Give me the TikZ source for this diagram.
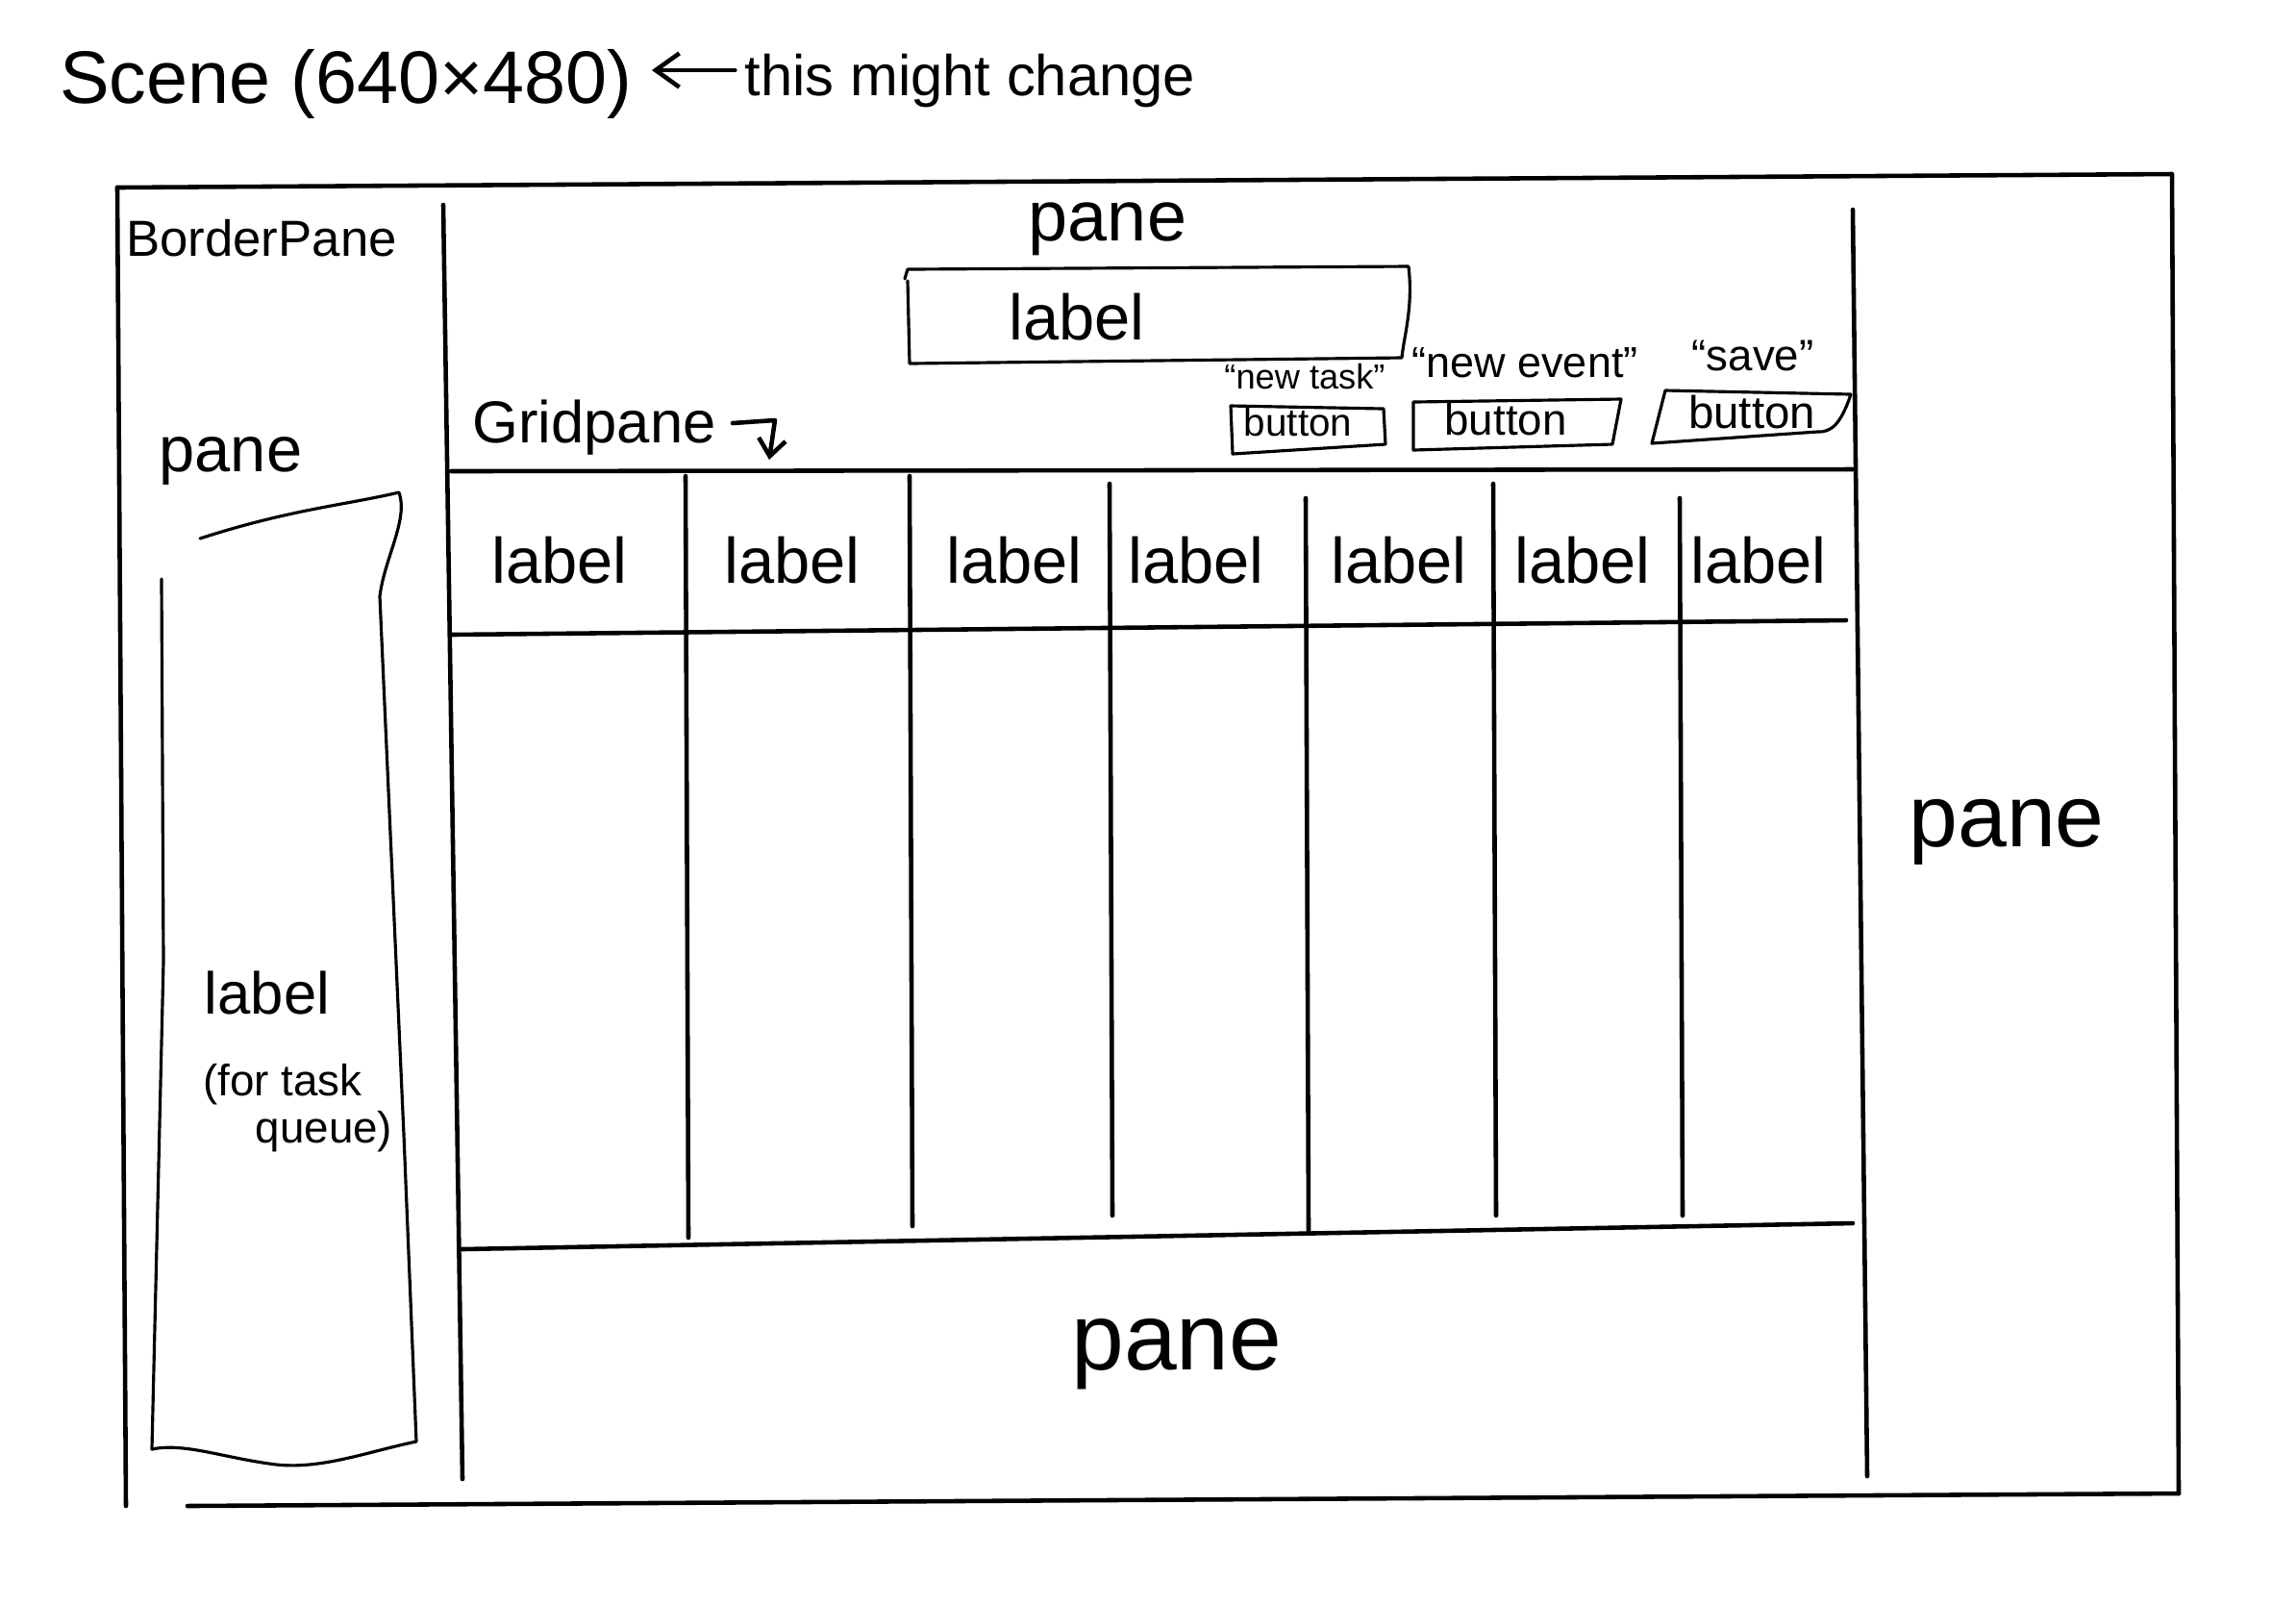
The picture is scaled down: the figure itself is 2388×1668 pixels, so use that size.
\documentclass[tikz,border=0pt]{standalone}
\usepackage{fontspec}
\setmainfont{Liberation Sans}
\usetikzlibrary{arrows.meta}
\newcommand{\fs}[1]{\fontsize{#1}{#1}\selectfont}
\begin{document}
\begin{tikzpicture}[x=0.01cm,y=-0.01cm,
  line width=1.3pt, line cap=round, line join=round,
  pen/.style={draw=black, line width=1.3pt},
  thin pen/.style={draw=black, line width=0.9pt},
  txt/.style={inner sep=0pt, anchor=base, text=black}]
\useasboundingbox[fill=white] (0,0) rectangle (2388,1668);

% title
\node[txt, font=\fs{22}] (title) at (360,107) {Scene (640×480)};
\node[txt, font=\fs{17}] (note) at (1009,99) {this might change};
\draw[pen, -{Straight Barb[length=7pt,width=10pt]}] (note.west |- 0,73) ++(-8,0) coordinate (na) -- (678,73) coordinate (nb);

% outer scene frame (BorderPane)
\draw[pen] (122,195) -- (2259,181) -- (2266,1553);
\draw[pen] (122,195) -- (131,1566);
\draw[pen] (195,1566) -- (2266,1553);
\node[txt, font=\fs{15}] (bp) at (272,266) {BorderPane};

% left / right dividers
\draw[pen] (461,213) -- (481,1538);
\draw[pen] (1927,218) -- (1942,1535);

% left pane
\node[txt, font=\fs{19}] (lpane) at (240,490) {pane};
\draw[thin pen] (208,560) .. controls (300,530) and (360,525) .. (415,512)
  .. controls (425,540) and (400,580) .. (395,620)
  -- (420,1180) -- (433,1499)
  .. controls (380,1510) and (330,1530) .. (280,1522)
  .. controls (230,1515) and (190,1500) .. (158,1507)
  -- (170,1000) -- (168,602);
\node[txt, font=\fs{17.5}] (qlabel) at (278,1054) {label};
\node[txt, font=\fs{13}] (qfor) at (294,1139) {(for task};
\node[txt, font=\fs{13}] (qq) at (337,1188) {queue)};

% top pane
\node[txt, font=\fs{21}] (tpane) at (1152,250) {pane};
\draw[thin pen] (941,290) -- (944,280) -- (1465,277) .. controls (1470,320) and (1460,350) .. (1458,372) -- (946,378) -- (944,292);
\node[txt, font=\fs{19}] (tlabel) at (1120,353) {label};

% buttons
\node[txt, font=\fs{10.3}] (t1) at (1357,404) {``new task''};
\node[txt, font=\fs{12.8}] (t2) at (1586,392) {``new event''};
\node[txt, font=\fs{13}] (t3) at (1823,385) {``save''};
\draw[thin pen] (1280,422) -- (1439,425) -- (1441,462) -- (1282,472) -- cycle;
\draw[thin pen] (1470,418) -- (1686,415) -- (1677,462) -- (1470,468) -- cycle;
\draw[thin pen] (1732,406) -- (1925,410) .. controls (1915,440) and (1905,450) .. (1890,449) -- (1718,461) -- cycle;
\node[txt, font=\fs{11.5}] (b1) at (1350,453) {button};
\node[txt, font=\fs{13}] (b2) at (1566,452) {button};
\node[txt, font=\fs{13.5}] (b3) at (1822,445) {button};

% gridpane
\node[txt, font=\fs{17.5}] (gp) at (618,460) {Gridpane};
\coordinate (ga) at (762,440);
\coordinate (gb) at (800,478);
\draw[pen, -{Straight Barb[length=5pt,width=8pt]}] (ga) -- (806,437) -- (gb);

\draw[pen] (469,490) -- (1927,488);
\draw[pen] (469,660) -- (1920,645);
\draw[pen] (480,1299) -- (1927,1272);
\foreach \x/\a/\b in {713/495/1287, 946/495/1275, 1154/503/1264, 1358/518/1280, 1553/503/1264, 1747/518/1264}
  \draw[pen] (\x,\a) -- (\x+3,\b);

\foreach \x/\n in {582/c1, 824/c2, 1055/c3, 1244/c4, 1455/c5, 1646/c6, 1829/c7}
  \node[txt, font=\fs{19}] (\n) at (\x,606) {label};

% bottom and right panes
\node[txt, font=\fs{28}] (bpane) at (1224,1424) {pane};
\node[txt, font=\fs{26}] (rpane) at (2087,880) {pane};
\end{tikzpicture}
\end{document}
